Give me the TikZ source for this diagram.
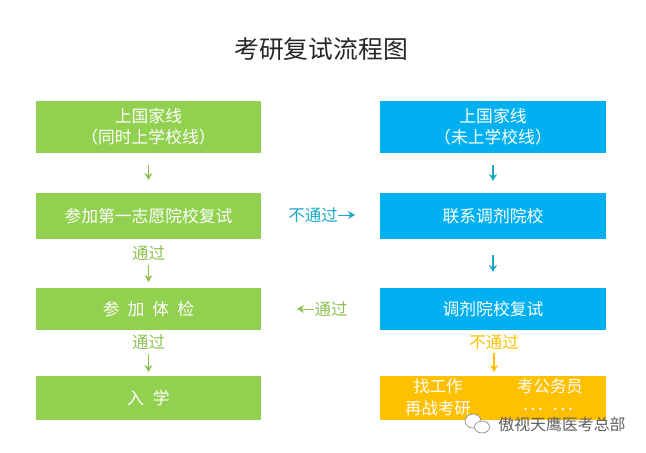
\documentclass[tikz,border=0pt]{standalone}
\usepackage{fontspec}
\setmainfont{Noto Sans CJK SC}
\usetikzlibrary{arrows.meta}
\definecolor{grn}{HTML}{92D050}
\definecolor{blu}{HTML}{00B0F0}
\definecolor{amb}{HTML}{FFC000}
\definecolor{lblgrn}{HTML}{8CC152}
\definecolor{lblblu}{HTML}{1BA8C8}
\tikzset{
  flowbox/.style={minimum height=#1,inner sep=0pt,text=white,font=\fontsize{16.8}{21}\selectfont,align=center},
  grnbox/.style={flowbox=#1,minimum width=225pt,fill=grn},
  blubox/.style={flowbox=#1,minimum width=226pt,fill=blu},
  flowarr/.style={-{Stealth[length=7pt,width=8pt]},line width=1.3pt},
  lbl/.style={font=\fontsize{16.5}{18}\selectfont,inner sep=0pt},
  amblbl/.style={text=white,font=\fontsize{16.4}{18}\selectfont,inner sep=0pt}
}
\begin{document}
\begin{tikzpicture}[x=1pt,y=-1pt]
\useasboundingbox (0,0) rectangle (646,453);
\fill[white] (0,0) rectangle (646,453);
\node[font=\fontsize{24.8}{26}\selectfont,text=black!85] (title) at (321,49) {考研复试流程图};
% left column
\node[grnbox=52pt] (l1) at (148.5,127) {上国家线\\（同时上学校线）};
\node[grnbox=46pt] (l2) at (148.5,216) {参加第一志愿院校复试};
\node[grnbox=42pt] (l3) at (148.5,309) {参\hspace{8pt}加\hspace{8pt}体\hspace{8pt}检};
\node[grnbox=44pt] (l4) at (148.5,398) {入\hspace{9pt}学};
% right column
\node[blubox=52pt] (r1) at (493,127) {上国家线\\（未上学校线）};
\node[blubox=46pt] (r2) at (493,216) {联系调剂院校};
\node[blubox=42pt] (r3) at (493,309) {调剂院校复试};
\node[flowbox=44pt,minimum width=226pt,fill=amb] (r4) at (493,398) {};
\node[amblbl] (r4a) at (438,386) {找工作};
\node[amblbl] (r4b) at (550,386) {考公务员};
\node[amblbl] (r4c) at (438,408) {再战考研};
\node[text=white,font=\bfseries\fontsize{11}{11}\selectfont,inner sep=0pt] (r4d) at (548,409) {.\,\,.\,\,.\quad.\,\,.\,\,.};
% vertical labels
\node[lbl,text=lblgrn] (p1) at (148.5,253) {通过};
\node[lbl,text=lblgrn] (p2) at (148.5,342) {通过};
\node[lbl,text=amb] (p3) at (494,342) {不通过};
% horizontal labels
\node[lbl,text=lblblu] (n1) at (313,215) {不通过};
\node[lbl,text=lblgrn] (p4) at (331,309) {通过};
\coordinate (n1e) at (355,215);
\coordinate (p4e) at (297,309);
% connectors
\draw[flowarr,lblgrn] (l1) ++(0,38) -- ++(0,15);
\draw[flowarr,lblgrn] (p1) ++(0,12) -- ++(0,17);
\draw[flowarr,lblgrn] (p2) ++(0,12) -- ++(0,18);
\draw[flowarr,lblblu] (r1) ++(0,38) -- ++(0,16);
\draw[flowarr,lblblu] (r2) ++(0,39) -- ++(0,17);
\draw[flowarr,amb] (p3) ++(0,11) -- ++(0,19);
\draw[flowarr,lblblu,line width=1pt] (n1.east) -- (n1e);
\draw[flowarr,lblgrn,line width=1pt] (p4.west) -- (p4e);
% watermark
\node[inner sep=0pt,font=\fontsize{15.9}{16}\selectfont,text=black!62] (wm) at (562,424) {傲视天鹰医考总部};
\filldraw[fill=white,draw=black!45,line width=.7pt] (473,421) ellipse (8pt and 7pt);
\filldraw[fill=white,draw=black!45,line width=.7pt] (482,427) ellipse (7.5pt and 6pt);
\end{tikzpicture}
\end{document}
